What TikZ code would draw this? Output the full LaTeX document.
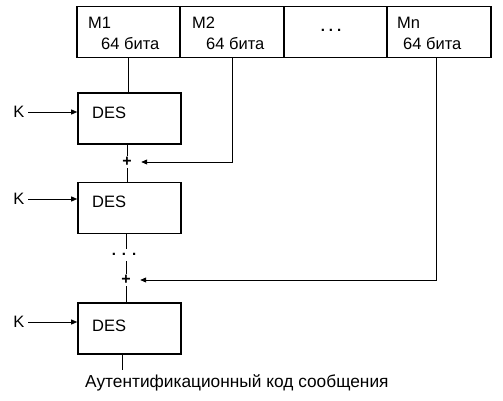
\documentclass[tikz,border=0pt]{standalone}
\usepackage{fontspec}
\setmainfont{Liberation Sans}
\usetikzlibrary{arrows.meta}
\begin{document}
\begin{tikzpicture}[x=1pt,y=-1pt,
  every node/.style={font=\fontsize{16.5}{18}\selectfont},
  cell/.style={draw,line width=1.6pt,minimum width=103.5pt,minimum height=51pt,inner sep=0pt},
  desbox/.style={draw,line width=1.6pt,minimum width=103pt,minimum height=51pt,inner sep=0pt},
  txt/.style={anchor=base west,inner sep=0pt},
  plus/.style={inner sep=0pt,minimum width=28pt,minimum height=12pt,font=\bfseries\fontsize{16}{16}\selectfont},
  dots/.style={font=\bfseries\fontsize{15}{16}\selectfont},
  conn/.style={line width=0.9pt},
  arr/.style={line width=0.9pt,-{Triangle[length=6pt,width=5pt]}}]
\useasboundingbox (0,0) rectangle (503,401);
% top cells
\node[cell] (c1) at (128.5,32) {};
\node[cell] (c2) at (232,32) {};
\node[cell] (c3) at (335.5,32) {};
\node[cell] (c4) at (439,32) {};
\node[txt] (m1) at (88,29) {M1};
\node[txt] (b1) at (101,50) {64 бита};
\node[txt] (m2) at (192,29) {M2};
\node[txt] (b2) at (206,50) {64 бита};
\node[dots] (dt) at (331,30) {.\hspace{4pt}.\hspace{4pt}.};
\node[txt] (mn) at (397,29) {Mn};
\node[txt] (bn) at (403,50) {64 бита};
\coordinate (s1) at (128,57.5);
\coordinate (s2) at (232,57.5);
\coordinate (sn) at (436,57.5);
% DES boxes
\node[desbox] (d1) at (129.5,118.5) {};
\node[txt] (t1) at (92,118) {DES};
\node[desbox] (d2) at (129.5,208) {};
\node[txt] (t2) at (92,207) {DES};
\node[desbox] (d3) at (129.5,328.5) {};
\node[txt] (t3) at (92,331) {DES};
% keys
\node (k1) at (19,112) {K};
\node (k2) at (19,199) {K};
\node (k3) at (19,322) {K};
\draw[arr] (k1.east) -- (k1.east -| d1.west);
\draw[arr] (k2.east) -- (k2.east -| d2.west);
\draw[arr] (k3.east) -- (k3.east -| d3.west);
% pluses
\node[plus] (p1) at (127,162) {+};
\node[plus] (p2) at (126,280) {+};
\node[dots] (dd) at (124,254) {.\hspace{6pt}.\hspace{6pt}.};
% connectors
\draw[conn] (s1) -- (s1 |- d1.north);
\draw[conn] (d1.south -| p1) -- (p1.north);
\draw[conn] (p1.south) -- (p1.south |- d2.north);
\draw[conn] (d2.south -| p2) -- (126,249);
\draw[conn] (126,261) -- (126,274);
\draw[conn] (p2.south) -- (p2.south |- d3.north);
\draw[arr] (s2) |- (p1.east);
\draw[arr] (sn) |- (p2.east);
\coordinate (out) at (122,370);
\draw[conn] (d3.south -| out) -- (out);
\node[txt,font=\fontsize{17.3}{19}\selectfont] (lab) at (85,387) {Аутентификационный код сообщения};
\end{tikzpicture}
\end{document}
